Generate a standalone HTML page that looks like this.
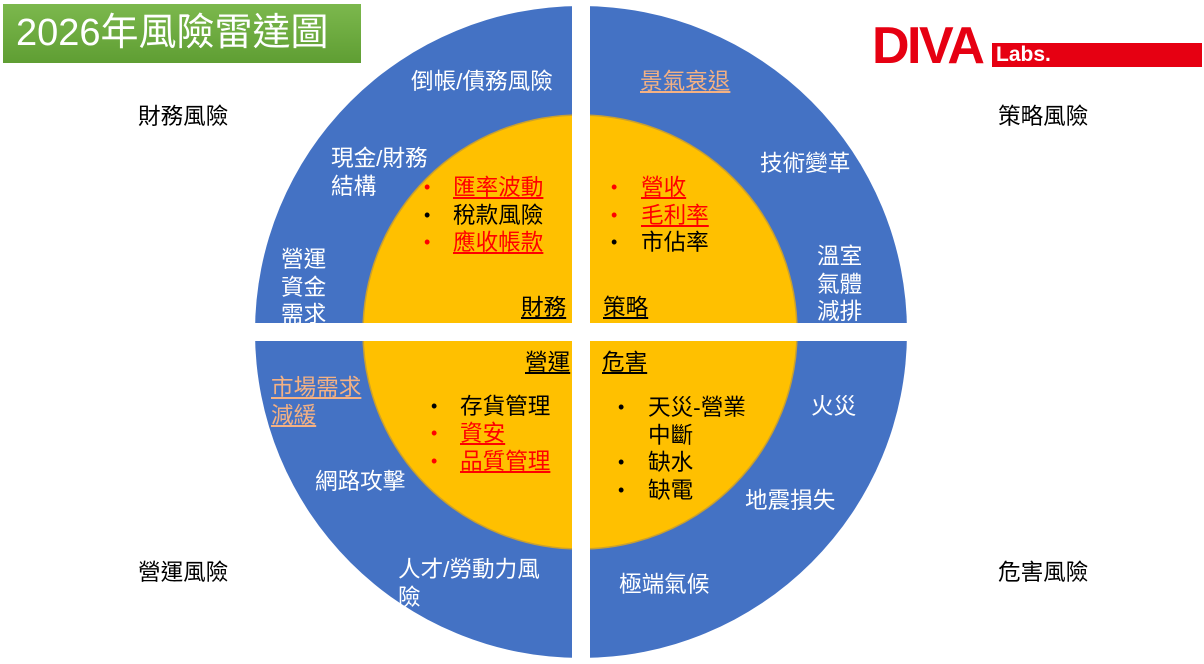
<!DOCTYPE html>
<html><head><meta charset="utf-8"><style>
body{margin:0;width:1204px;height:664px;background:#fff;position:relative;overflow:hidden;font-family:"Liberation Sans","Noto Sans CJK TC",sans-serif;}
.t{position:absolute;font-size:22.6px;line-height:27.5px;white-space:nowrap;color:#000}
.w{color:#fff}
.r{color:#f00;text-decoration:underline}
.p{color:#f4b183;text-decoration:underline}
.u{text-decoration:underline}
.b{position:absolute;font-size:18px;line-height:27.5px}
</style></head><body>
<svg width="1204" height="664" style="position:absolute;left:0;top:0">
<circle cx="581" cy="332" r="326" fill="#4472c4"/>
<circle cx="580" cy="332" r="217" fill="#ffc000" stroke="#c9a030" stroke-width="1.5"/>
<rect x="572" y="0" width="18" height="664" fill="#fff"/>
<rect x="0" y="323" width="1204" height="18" fill="#fff"/>
<defs><linearGradient id="g" x1="0" y1="0" x2="0" y2="1"><stop offset="0" stop-color="#7cb84d"/><stop offset="1" stop-color="#5f9e33"/></linearGradient></defs>
<rect x="3" y="4" width="358" height="59" fill="url(#g)"/>
<rect x="992" y="43" width="210" height="24" fill="#e60012"/>
</svg>
<div class="t w" style="left:16px;top:10px;font-size:38px;line-height:46px">2026年風險雷達圖</div>
<div class="t" style="left:872px;top:17px;font-size:52px;line-height:58px;font-weight:bold;color:#e60012;letter-spacing:-2.5px">DIVA</div>
<div class="t w" style="left:996px;top:41px;font-size:21px;line-height:28px;font-weight:bold">Labs.</div>

<div class="t" style="left:138px;top:103px">財務風險</div>
<div class="t" style="left:998px;top:103px">策略風險</div>
<div class="t" style="left:138px;top:559px">營運風險</div>
<div class="t" style="left:998px;top:559px">危害風險</div>

<div class="t w" style="left:411px;top:68px">倒帳/債務風險</div>
<div class="t p" style="left:640px;top:68px">景氣衰退</div>
<div class="t w" style="left:331px;top:145px">現金/財務<br>結構</div>
<div class="t w" style="left:760px;top:150px">技術變革</div>
<div class="t w" style="left:281px;top:246px">營運<br>資金<br>需求</div>
<div class="t w" style="left:817px;top:243px">溫室<br>氣體<br>減排</div>
<div class="t p" style="left:271px;top:374px">市場需求<br>減緩</div>
<div class="t w" style="left:811px;top:393px">火災</div>
<div class="t w" style="left:315px;top:468px">網路攻擊</div>
<div class="t w" style="left:745px;top:487px">地震損失</div>
<div class="t w" style="left:398px;top:556px">人才/勞動力風<br>險</div>
<div class="t w" style="left:619px;top:571px">極端氣候</div>

<div class="b" style="left:424px;top:174px;color:#f00">•</div>
<div class="b" style="left:424px;top:202px">•</div>
<div class="b" style="left:424px;top:229px;color:#f00">•</div>
<div class="t r" style="left:453px;top:174px">匯率波動</div>
<div class="t" style="left:453px;top:202px">稅款風險</div>
<div class="t r" style="left:453px;top:229px">應收帳款</div>

<div class="b" style="left:611px;top:174px;color:#f00">•</div>
<div class="b" style="left:611px;top:202px;color:#f00">•</div>
<div class="b" style="left:611px;top:229px">•</div>
<div class="t r" style="left:641px;top:174px">營收</div>
<div class="t r" style="left:641px;top:202px">毛利率</div>
<div class="t" style="left:641px;top:229px">市佔率</div>

<div class="t u" style="left:521px;top:294px">財務</div>
<div class="t u" style="left:603px;top:294px">策略</div>
<div class="t u" style="left:525px;top:349px">營運</div>
<div class="t u" style="left:602px;top:349px">危害</div>

<div class="b" style="left:431px;top:393px">•</div>
<div class="b" style="left:431px;top:420px;color:#f00">•</div>
<div class="b" style="left:431px;top:448px;color:#f00">•</div>
<div class="t" style="left:460px;top:393px">存貨管理</div>
<div class="t r" style="left:460px;top:420px">資安</div>
<div class="t r" style="left:460px;top:448px">品質管理</div>

<div class="b" style="left:618px;top:394px">•</div>
<div class="b" style="left:618px;top:449px">•</div>
<div class="b" style="left:618px;top:477px">•</div>
<div class="t" style="left:648px;top:394px">天災-營業<br>中斷<br>缺水<br>缺電</div>
</body></html>
